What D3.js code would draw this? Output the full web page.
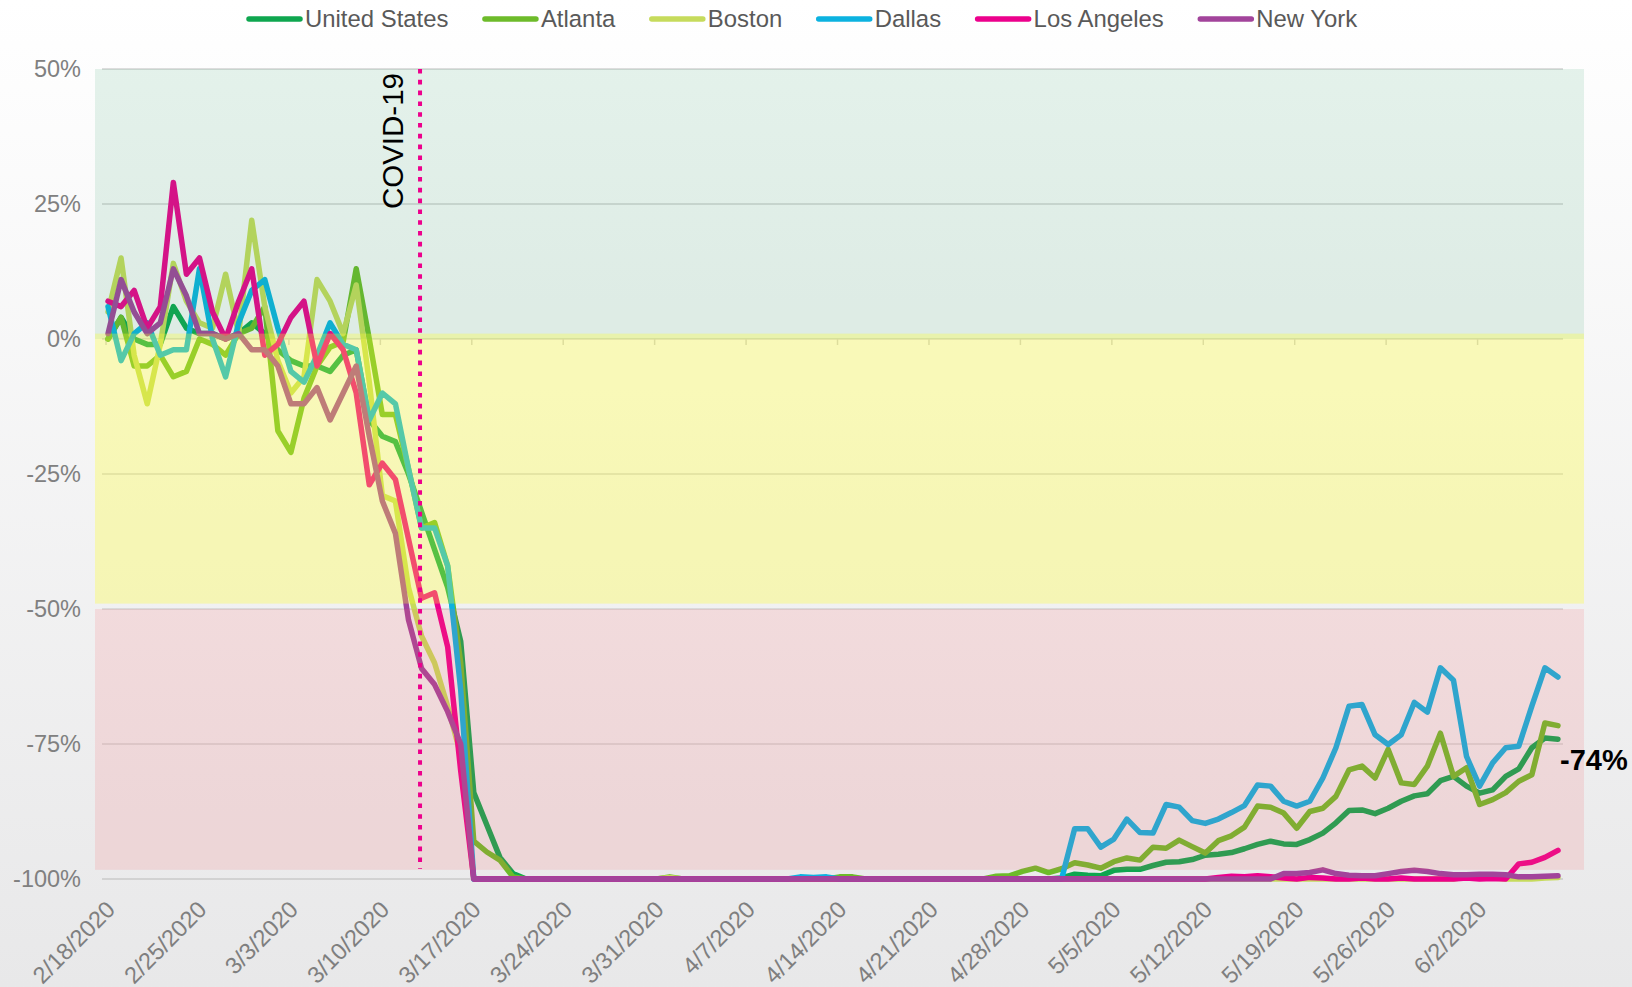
<!DOCTYPE html>
<html>
<head>
<meta charset="utf-8">
<title>Mobility change vs baseline</title>
<script src="https://cdn.jsdelivr.net/npm/d3@7"></script>
<style>
    html, body { margin: 0; padding: 0; background: #fff; }
    #chart { width: 1632px; height: 987px; }
    text { font-family: "Liberation Sans", Arial, sans-serif; }
</style>
</head>
<body>
<div id="chart"></div>
<script>
// one value per day, 2/18/2020 .. 6/8/2020, % change vs. baseline
const firstDay = new Date(2020, 1, 18);
const lastDay = new Date(2020, 5, 8);

const seriesNames = ["United States", "Atlanta", "Boston", "Dallas", "Los Angeles", "New York"];

const unitedStates = [
    0, 4, 0, -1, -1, 6, 2, 1, 1, 0,
    1, 3, 1, -2, -4, -5, -5, -6, -3, -2,
    -15, -18, -19, -25, -32, -39, -46, -56, -84, -90,
    -96, -99, -100, -100, -100, -100, -100, -100, -100, -100,
    -100, -100, -100, -100, -100, -100, -100, -100, -100, -100,
    -100, -100, -100, -100, -100, -100, -100, -100, -100, -100,
    -100, -100, -100, -100, -100, -100, -100, -100, -100, -100,
    -100, -100, -100, -99.8, -99.1, -99.3, -99.4, -98.4, -98.2, -98.2,
    -97.5, -96.9, -96.8, -96.4, -95.6, -95.4, -95.1, -94.4, -93.6, -93,
    -93.5, -93.6, -92.7, -91.5, -89.6, -87.3, -87.2, -87.9, -86.9, -85.6,
    -84.6, -84.2, -81.8, -81, -82.8, -84.1, -83.5, -81, -79.6, -75.7,
    -73.9, -74.1
];

const atlanta = [
    0, 4, -5, -5, -3, -7, -6, 0, -1, -3,
    1, 2, 6, -17, -21, -11, -5, -1.5, -0.5, 13,
    0, -14, -14, -24, -35, -34, -42, -60, -93, -95,
    -96.5, -99.6, -100, -100, -100, -100, -100, -100, -100, -100,
    -100, -100, -100, -99.6, -100, -100, -100, -100, -100, -100,
    -100, -100, -100, -100, -100, -100, -99.6, -99.6, -100, -100,
    -100, -100, -100, -100, -100, -100, -100, -100, -99.5, -99.4,
    -98.6, -98, -98.8, -98.1, -97, -97.4, -98, -96.8, -96.1, -96.5,
    -94.1, -94.3, -92.8, -94, -95.2, -92.9, -92, -90.4, -86.5, -86.7,
    -87.8, -90.6, -87.5, -86.9, -84.7, -79.8, -79.1, -81.3, -76, -82.2,
    -82.5, -79.1, -73, -81, -79.4, -86.2, -85.3, -84, -81.9, -80.7,
    -71.1, -71.6
];

const boston = [
    5, 15, -3, -12, -1, 14, 7, 3, 2, 12,
    1, 22, 6, -4, -10, -7, 11, 7, 1, 10,
    -8, -29, -30, -46, -55, -60, -68, -77, -100, -100,
    -100, -100, -100, -100, -100, -100, -100, -100, -100, -100,
    -100, -100, -100, -99.7, -100, -100, -100, -100, -100, -100,
    -100, -100, -100, -100, -100, -100, -100, -100, -100, -100,
    -100, -100, -100, -100, -100, -100, -100, -100, -100, -100,
    -100, -100, -100, -100, -100, -100, -100, -100, -100, -100,
    -100, -100, -100, -100, -100, -100, -100, -100, -100, -100,
    -100, -100, -100, -100, -100, -100, -100, -100, -100, -100,
    -100, -100, -100, -100, -99.6, -99.5, -99.8, -100, -100, -100,
    -99.8, -99.7
];

const dallas = [
    6, -4, 1, 3, -3, -2, -2, 13, 0, -7,
    3, 9, 11, 2, -6, -8, -3, 3, -1, -2,
    -15, -10, -12, -24, -35, -35, -42, -65, -100, -100,
    -100, -100, -100, -100, -100, -100, -100, -100, -100, -100,
    -100, -100, -100, -100, -100, -100, -100, -100, -100, -100,
    -100, -100, -100, -99.6, -99.7, -99.6, -100, -100, -100, -100,
    -100, -100, -100, -100, -100, -100, -100, -100, -100, -100,
    -100, -100, -100, -100, -90.7, -90.7, -94.1, -92.6, -88.9, -91.4,
    -91.5, -86.2, -86.7, -89.2, -89.7, -88.9, -87.7, -86.4, -82.6, -82.8,
    -85.6, -86.5, -85.6, -81.3, -75.7, -68, -67.7, -73.3, -75.1, -73.3,
    -67.3, -69.1, -60.9, -63.2, -77.3, -82.8, -78.5, -75.7, -75.4, -68,
    -60.9, -62.6
];

const losAngeles = [
    7, 6, 9, 2, 6, 29, 12, 15, 5, 0,
    7, 13, -3, -1, 4, 7, -5, 1, -2, -10,
    -27, -23, -26, -37, -48, -47, -57, -80, -100, -100,
    -100, -100, -100, -100, -100, -100, -100, -100, -100, -100,
    -100, -100, -100, -100, -100, -100, -100, -100, -100, -100,
    -100, -100, -100, -100, -100, -100, -100, -100, -100, -100,
    -100, -100, -100, -100, -100, -100, -100, -100, -100, -100,
    -100, -100, -100, -100, -100, -100, -100, -100, -100, -100,
    -100, -100, -100, -100, -100, -99.7, -99.5, -99.6, -99.4, -99.6,
    -99.8, -100, -99.7, -99.8, -100, -100, -99.8, -100, -100, -99.8,
    -100, -100, -100, -100, -99.8, -100, -99.9, -100, -97.2, -96.9,
    -96, -94.7
];

const newYork = [
    1, 11, 5, 1, 3, 13, 8, 1, 1, 0,
    1, -2, -2, -5, -12, -12, -9, -15, -10, -5,
    -18, -30, -36, -52, -61, -64, -69, -75, -100, -100,
    -100, -100, -100, -100, -100, -100, -100, -100, -100, -100,
    -100, -100, -100, -100, -100, -100, -100, -100, -100, -100,
    -100, -100, -100, -100, -100, -100, -100, -100, -100, -100,
    -100, -100, -100, -100, -100, -100, -100, -100, -100, -100,
    -100, -100, -100, -100, -100, -100, -100, -100, -100, -100,
    -100, -100, -100, -100, -100, -100, -100, -100, -100, -100,
    -99, -99, -98.8, -98.3, -99, -99.3, -99.4, -99.4, -99, -98.6,
    -98.4, -98.6, -99, -99.2, -99.2, -99.1, -99.1, -99.2, -99.6, -99.6,
    -99.5, -99.4
];

const seriesValues = [unitedStates, atlanta, boston, dallas, losAngeles, newYork];

const dateTicks = ["2/18/2020", "2/25/2020", "3/3/2020", "3/10/2020", "3/17/2020", "3/24/2020",
    "3/31/2020", "4/7/2020", "4/14/2020", "4/21/2020", "4/28/2020", "5/5/2020",
    "5/12/2020", "5/19/2020", "5/26/2020", "6/2/2020"];
const percentTicks = [50, 25, 0, -25, -50, -75, -100];

// background zones (value ranges): recovered / slowing / stopped
const zoneRanges = [[0, 50], [-49, 1], [-98.3, -50]];

const covidDate = "3/13/2020";
const covidLabel = "COVID-19";


class MobilityChart {
    constructor(parentElement) {
        this.parentElement = parentElement;
        this.initVis();
    }

    initVis() {
        let vis = this;

        vis.width = 1632;
        vis.height = 987;

        vis.svg = d3.select("#" + vis.parentElement)
            .append("svg")
            .attr("width", vis.width)
            .attr("height", vis.height);

        let defs = vis.svg.append("defs");
        let grad = defs.append("linearGradient")
            .attr("id", "page-bg")
            .attr("x1", 0).attr("y1", 0)
            .attr("x2", 0).attr("y2", 1);
        grad.append("stop").attr("offset", "0%").attr("stop-color", "#ffffff");
        grad.append("stop").attr("offset", "100%").attr("stop-color", "#e8e8e9");

        vis.svg.append("rect")
            .attr("width", vis.width)
            .attr("height", vis.height)
            .attr("fill", "url(#page-bg)");

        vis.colors = ["#0ea64f", "#6dbb2a", "#c6db5c", "#0cb2e0", "#ec008c", "#a2449b"];
        vis.zoneColors = ["rgba(43,160,102,0.12)", "rgba(255,255,40,0.30)", "rgba(246,93,100,0.15)"];

        vis.dates = d3.timeDay.range(firstDay, d3.timeDay.offset(lastDay, 1))
            .map(d3.timeFormat("%-m/%-d/%Y"));

        vis.x = d3.scalePoint()
            .domain(vis.dates)
            .range([101.5, 1564.5])
            .padding(0.5);

        vis.y = d3.scaleLinear()
            .domain([-100, 50])
            .range([879, 69]);

        vis.updateVis();
    }

    updateVis() {
        let vis = this;

        // gridlines
        vis.svg.append("g")
            .attr("class", "grid")
            .selectAll("line")
            .data(percentTicks)
            .enter()
            .append("line")
            .attr("x1", 102)
            .attr("x2", 1563)
            .attr("y1", d => vis.y(d))
            .attr("y2", d => vis.y(d))
            .attr("stroke", "#d2d2d2")
            .attr("stroke-width", d => d === -100 ? 2.2 : 1.6);

        // little ticks on the zero line
        vis.svg.append("g")
            .selectAll("line")
            .data(dateTicks)
            .enter()
            .append("line")
            .attr("x1", d => vis.x(d) - 2)
            .attr("x2", d => vis.x(d) - 2)
            .attr("y1", vis.y(0))
            .attr("y2", vis.y(0) + 6)
            .attr("stroke", "#cfcfcf")
            .attr("stroke-width", 1.5);

        // series lines
        let line = d3.line()
            .x((d, i) => vis.x(vis.dates[i]))
            .y(d => vis.y(d));

        vis.svg.append("g")
            .attr("class", "series")
            .selectAll("path")
            .data(seriesValues)
            .enter()
            .append("path")
            .attr("d", d => line(d))
            .attr("fill", "none")
            .attr("stroke", (d, i) => vis.colors[i])
            .attr("stroke-width", 5.5)
            .attr("stroke-linejoin", "round")
            .attr("stroke-linecap", "round");

        // tinted zones sit on top of the lines
        vis.svg.append("g")
            .attr("class", "zones")
            .selectAll("rect")
            .data(zoneRanges)
            .enter()
            .append("rect")
            .attr("x", 95)
            .attr("width", 1584 - 95)
            .attr("y", d => vis.y(d[1]))
            .attr("height", d => vis.y(d[0]) - vis.y(d[1]))
            .attr("fill", (d, i) => vis.zoneColors[i]);

        // covid marker
        let cx = vis.x(covidDate) - 1.5;
        vis.svg.append("line")
            .attr("x1", cx).attr("x2", cx)
            .attr("y1", vis.y(50))
            .attr("y2", 869)
            .attr("stroke", "#ec008c")
            .attr("stroke-width", 4)
            .attr("stroke-dasharray", "4.6 6.2");

        vis.svg.append("text")
            .attr("transform", `translate(${cx - 17},${vis.y(50) + 4}) rotate(-90)`)
            .attr("text-anchor", "end")
            .style("font-size", "29.5px")
            .attr("fill", "#000")
            .text(covidLabel);

        // end label for the national line
        let last = vis.dates.length - 1;
        vis.svg.append("text")
            .attr("x", vis.x(vis.dates[last]) + 2)
            .attr("y", vis.y(unitedStates[last]) + 31)
            .style("font-size", "29px")
            .style("font-weight", "bold")
            .attr("fill", "#000")
            .text(Math.round(unitedStates[last]) + "%");

        // y axis
        let yAxis = vis.svg.append("g")
            .attr("transform", "translate(90,0)")
            .call(d3.axisLeft(vis.y)
                .tickValues(percentTicks)
                .tickSize(0)
                .tickPadding(9)
                .tickFormat(d => d + "%"));
        yAxis.select(".domain").remove();
        yAxis.selectAll("text")
            .style("font-size", "23.5px")
            .style("font-family", "\"Liberation Sans\", Arial, sans-serif")
            .attr("fill", "#808080");

        // x axis
        let xAxis = vis.svg.append("g")
            .attr("transform", `translate(0,${vis.y(-100)})`)
            .call(d3.axisBottom(vis.x)
                .tickValues(dateTicks)
                .tickSize(0));
        xAxis.select(".domain").remove();
        xAxis.selectAll("text")
            .attr("x", 0)
            .attr("y", 0)
            .attr("dy", null)
            .attr("transform", "translate(8,32) rotate(-45)")
            .attr("text-anchor", "end")
            .style("font-size", "23.5px")
            .style("font-family", "\"Liberation Sans\", Arial, sans-serif")
            .attr("fill", "#7f7f7f");

        // legend
        let legend = vis.svg.append("g").attr("class", "legend");
        let xPos = 246;
        seriesNames.forEach((name, i) => {
            legend.append("line")
                .attr("x1", xPos + 3).attr("x2", xPos + 54)
                .attr("y1", 19).attr("y2", 19)
                .attr("stroke", vis.colors[i])
                .attr("stroke-width", 5.5)
                .attr("stroke-linecap", "round");
            let t = legend.append("text")
                .attr("x", xPos + 59)
                .attr("y", 27)
                .style("font-size", "23.9px")
                .attr("fill", "#595959")
                .text(name);
            xPos += 59 + t.node().getComputedTextLength() + 33.5;
        });
    }
}

new MobilityChart("chart");
</script>
</body>
</html>
